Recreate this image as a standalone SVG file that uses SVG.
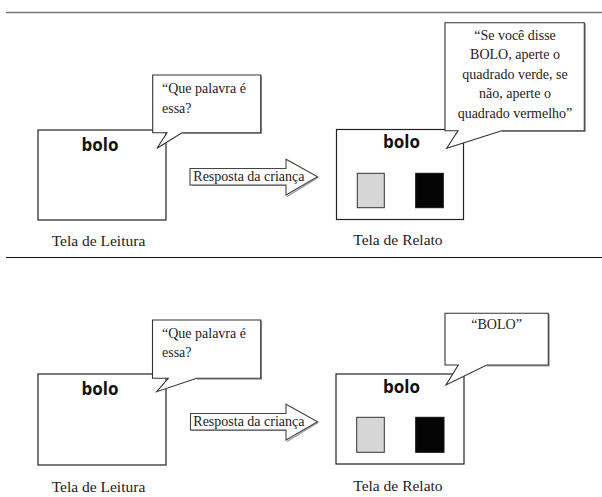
<svg xmlns="http://www.w3.org/2000/svg" width="602" height="497" viewBox="0 0 602 497">
<style>
.bg{fill:#fff}
.box{fill:#fff;stroke:#222;stroke-width:1.2}
.bub{fill:#fff;stroke:#333;stroke-width:1.1}
.shadow{fill:none;stroke:#999;stroke-width:1.2}
.arrow{fill:#fff;stroke:#444;stroke-width:1.1}
.word{font-family:"Open Sans","Liberation Sans",sans-serif;font-weight:bold;font-size:17px;fill:#111;text-anchor:middle}
.serif{font-family:"Liberation Serif","Times New Roman",serif;font-size:14px;fill:#222}
.lbl{font-family:"Liberation Serif","Times New Roman",serif;font-size:15.5px;fill:#222}
.mid{text-anchor:middle}
.gray{fill:#d6d6d6;stroke:#333;stroke-width:1}
.black{fill:#050505;stroke:#111;stroke-width:1}
</style>
<rect class="bg" x="0" y="0" width="602" height="497"/>
<g id="separators">
<line x1="6" y1="12.5" x2="602" y2="12.5" stroke="#777" stroke-width="1.6"/>
<line x1="6" y1="257.5" x2="602" y2="257.5" stroke="#111" stroke-width="1.2"/>
</g>

<!-- Top panel -->
<g id="tela-leitura-1">
<rect class="box" x="38" y="130" width="128" height="90"/>
<text class="word" x="100" y="150.5">bolo</text>
<text class="lbl" x="51.7" y="246.3">Tela de Leitura</text>
</g>
<g id="bubble-leitura-1">
<path class="shadow" d="M261.5,76 V133.5 H183"/>
<path class="bub" d="M152.7,75 H260.7 V132.7 H182 L157,148.3 L167,132.7 H152.7 Z"/>
<text class="serif" x="162" y="93.3">“Que palavra é</text>
<text class="serif" x="162" y="113.3">essa?</text>
</g>
<g id="tela-relato-1">
<rect class="box" x="336.5" y="129.5" width="127" height="90"/>
<text class="word" x="401.5" y="148.3">bolo</text>
<rect class="gray" x="357.3" y="173.3" width="27" height="34.4"/>
<rect class="black" x="415.7" y="173.3" width="27.6" height="34.4"/>
<text class="lbl" x="353.3" y="244.7">Tela de Relato</text>
</g>
<g id="bubble-relato-1">
<path class="shadow" d="M585.3,23.5 V131.5 H502"/>
<path class="bub" d="M445,22.7 H584.3 V130.7 H501.7 L446.7,148.3 L458,130.7 H445 Z"/>
<text class="serif mid" x="515" y="39.5">“Se você disse</text>
<text class="serif mid" x="515" y="59">BOLO, aperte o</text>
<text class="serif mid" x="515" y="78.5">quadrado verde, se</text>
<text class="serif mid" x="515" y="98">não, aperte o</text>
<text class="serif mid" x="515" y="117.5">quadrado vermelho”</text>
</g>

<!-- Bottom panel -->
<g id="tela-leitura-2">
<rect class="box" x="38" y="374" width="128" height="91"/>
<text class="word" x="100" y="395">bolo</text>
<text class="lbl" x="51.7" y="491.7">Tela de Leitura</text>
</g>
<g id="bubble-leitura-2">
<path class="shadow" d="M261.5,321 V379.1 H197"/>
<path class="bub" d="M152.5,320 H260.7 V378.3 H196.7 L156.7,391.7 L168.3,378.3 H152.5 Z"/>
<text class="serif" x="162" y="338">“Que palavra é</text>
<text class="serif" x="162" y="357">essa?</text>
</g>
<g id="tela-relato-2">
<rect class="box" x="336" y="374" width="128" height="90"/>
<text class="word" x="401.5" y="392.7">bolo</text>
<rect class="gray" x="356.7" y="417.3" width="27.6" height="35"/>
<rect class="black" x="415.7" y="417.3" width="28.3" height="35"/>
<text class="lbl" x="353.3" y="490.7">Tela de Relato</text>
</g>
<g id="bubble-relato-2">
<path class="shadow" d="M549.1,314 V365.8 H487"/>
<path class="bub" d="M445,313.3 H548.3 V365 H486.7 L446,385 L458.3,365 H445 Z"/>
<text class="serif mid" x="496.6" y="329.3">“BOLO”</text>
</g>

<g id="connectors">
<path class="shadow" d="M191.5,185.5 H286 M287,196.5 L318.5,177.2"/>
<path class="arrow" d="M190,168.5 H286 V159.3 L317.5,176.7 L286,195 V185 H190 Z"/>
<text class="serif" x="193.3" y="181">Resposta da criança</text>
<path class="shadow" d="M191.5,430.5 H286 M287,441.5 L318.5,422.2"/>
<path class="arrow" d="M190.5,413.5 H286 V404.3 L317.5,421.7 L286,440 V430 H190.5 Z"/>
<text class="serif" x="193.3" y="426">Resposta da criança</text>
</g>
</svg>
